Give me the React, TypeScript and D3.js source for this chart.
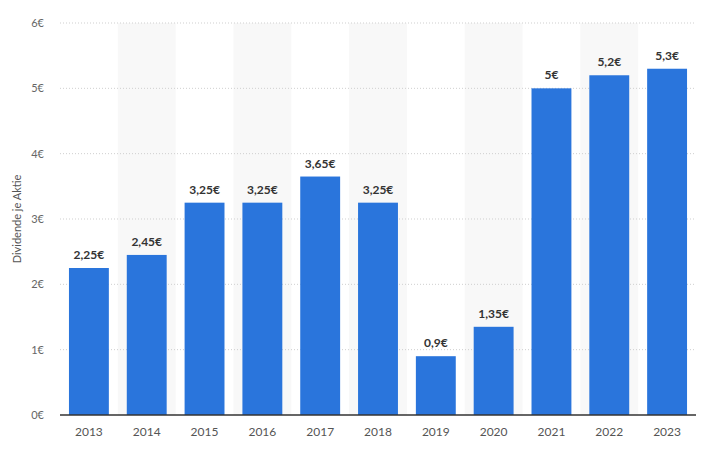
import * as d3 from 'd3';

const YEARS = ['2013', '2014', '2015', '2016', '2017', '2018', '2019', '2020', '2021', '2022', '2023'];
const DIVIDENDS = [2.25, 2.45, 3.25, 3.25, 3.65, 3.25, 0.9, 1.35, 5, 5.2, 5.3];
const Y_TICKS = [0, 1, 2, 3, 4, 5, 6];

const WIDTH = 708;
const HEIGHT = 452;
const MARGIN = { top: 23, right: 12, bottom: 37, left: 60 };

const fmt = (v: number) => String(v).replace('.', ',') + '€';

export default function App() {
  const boundsWidth = WIDTH - MARGIN.left - MARGIN.right;
  const boundsHeight = HEIGHT - MARGIN.top - MARGIN.bottom;

  const xScale = d3.scaleBand().domain(YEARS).range([0, boundsWidth]).paddingInner(0.31).paddingOuter(0.155);
  const bandStep = d3.scaleBand().domain(YEARS).range([0, boundsWidth]);
  const yScale = d3.scaleLinear().domain([0, 6]).range([boundsHeight, 0]);

  return (
    <svg width={WIDTH} height={HEIGHT} style={{ position: 'absolute', left: 0, top: 0, fontFamily: 'Lato, sans-serif' }}>
      <rect width={WIDTH} height={HEIGHT} fill="#fff" />
      <g transform={`translate(${MARGIN.left},${MARGIN.top})`}>
        {/* alternating column shading */}
        {YEARS.map((y, i) =>
          i % 2 === 1 ? (
            <rect key={'bg' + y} x={bandStep(y)} y={0} width={bandStep.bandwidth()} height={boundsHeight} fill="#f8f8f8" />
          ) : null
        )}
        {/* grid */}
        {Y_TICKS.filter((t) => t > 0).map((t) => (
          <line key={'g' + t} x1={0} x2={boundsWidth} y1={yScale(t)} y2={yScale(t)} stroke="#cfcfcf" strokeWidth={1} strokeDasharray="1,2" />
        ))}
        {Y_TICKS.map((t) => (
          <text key={'yt' + t} x={-16} y={yScale(t)} dy="0.35em" textAnchor="end" fontSize={11} fill="#666">
            {t}€
          </text>
        ))}
        {/* bars */}
        {YEARS.map((y, i) => (
          <rect key={'b' + y} x={xScale(y)} y={yScale(DIVIDENDS[i])} width={xScale.bandwidth()} height={boundsHeight - yScale(DIVIDENDS[i])} fill="#2a75dc" />
        ))}
        {YEARS.map((y, i) => (
          <text key={'v' + y} x={xScale(y)! + xScale.bandwidth() / 2} y={yScale(DIVIDENDS[i]) - 9} textAnchor="middle" fontSize={12} fontWeight={700} fill="#333">
            {fmt(DIVIDENDS[i])}
          </text>
        ))}
        <line x1={0} x2={boundsWidth} y1={boundsHeight} y2={boundsHeight} stroke="#333" strokeWidth={1.5} />
        {YEARS.map((y) => (
          <text key={'x' + y} x={xScale(y)! + xScale.bandwidth() / 2} y={boundsHeight + 21} textAnchor="middle" fontSize={12} fill="#555">
            {y}
          </text>
        ))}
      </g>
      <text transform={`translate(21,${MARGIN.top + boundsHeight / 2}) rotate(-90)`} textAnchor="middle" fontSize={11} fill="#555">
        Dividende je Aktie
      </text>
    </svg>
  );
}
